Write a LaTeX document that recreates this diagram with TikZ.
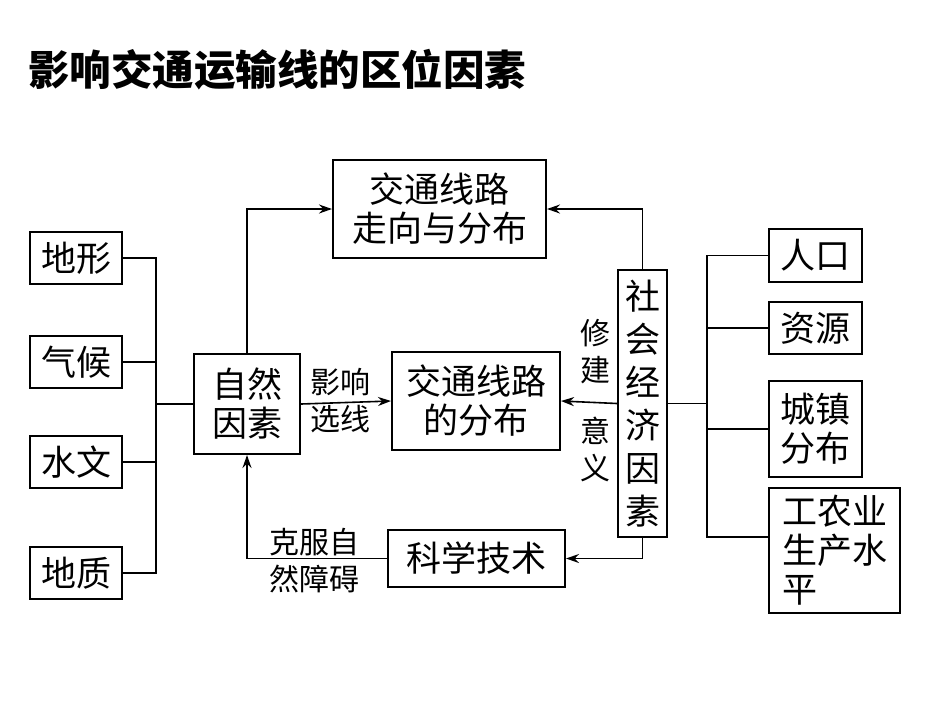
\documentclass[tikz,border=0pt]{standalone}
\usepackage{fontspec}
\setmainfont{Noto Sans CJK SC}
\newfontfamily\cjk{Noto Sans CJK SC}
\usetikzlibrary{arrows.meta}
\begin{document}
\begin{tikzpicture}[x=1pt,y=-1pt,
  box/.style={draw,line width=2pt,inner sep=0pt,align=center,font=\fontsize{35}{39}\selectfont\cjk},
  lab/.style={inner sep=0pt,align=center,font=\fontsize{30}{37}\selectfont\cjk},
  ln/.style={line width=1.6pt},
  ar/.style={line width=1.6pt,-{Stealth[length=13pt,width=9pt]}}]
\useasboundingbox (0,0) rectangle (950,713);
\node[anchor=west,inner sep=0pt,font=\fontsize{41.5}{44}\selectfont\cjk\bfseries] (title) at (28,70) {影响交通运输线的区位因素};
% left
\node[box,minimum width=92pt,minimum height=52pt] (dx) at (76,258) {地形};
\node[box,minimum width=92pt,minimum height=52pt] (qh) at (76,362) {气候};
\node[box,minimum width=92pt,minimum height=52pt] (sw) at (76,462) {水文};
\node[box,minimum width=92pt,minimum height=52pt] (dz) at (76,573) {地质};
\node[box,minimum width=106pt,minimum height=100pt] (zr) at (247,404) {自然\\因素};
\node[box,minimum width=213pt,minimum height=98pt] (zx) at (439.5,209) {交通线路\\走向与分布};
\node[box,minimum width=168pt,minimum height=98pt] (fb) at (476,401) {交通线路\\的分布};
\node[box,minimum width=49pt,minimum height=267pt,font=\fontsize{35}{43}\selectfont\cjk] (sh) at (642.5,403.5) {社\\会\\经\\济\\因\\素};
\node[box,minimum width=177pt,minimum height=57pt] (kx) at (476.5,558.5) {科学技术};
% right
\node[box,minimum width=93pt,minimum height=53pt] (rk) at (815.5,255.5) {人口};
\node[box,minimum width=93pt,minimum height=52pt] (zy) at (815.5,328) {资源};
\node[box,minimum width=93pt,minimum height=96pt] (cz) at (815.5,429) {城镇\\分布};
\node[box,minimum width=131pt,minimum height=125pt,align=left] (gn) at (834.5,550.5) {工农业\\生产水\\平};
% labels
\node[lab] (l1) at (340,401) {影响\\选线};
\node[lab] (l2) at (595,352) {修\\建};
\node[lab] (l3) at (595,449) {意\\义};
\node[lab] (l4) at (314,561) {克服自\\然障碍};
% left bus
\coordinate (bt) at (156,258);
\coordinate (bb) at (156,573);
\draw[ln] (dx.east) -- (bt) -- (bb) -- (dz.east);
\draw[ln] (qh.east) -- (156,362);
\draw[ln] (sw.east) -- (156,462);
\draw[ln] (156,404) -- (zr.west);
% arrows
\draw[ar] (zr.north) |- (zx.west);
\draw[ar] (zr.east) -- (fb.west);
\draw[ar] (sh.north) |- (zx.east);
\draw[ar] (sh.west) -- (fb.east);
\draw[ar] (sh.south) |- (kx.east);
\draw[ar] (kx.west) -| (zr.south);
% right bus
\draw[ln] (sh.east) -- (707,403.5);
\draw[ln] (rk.west) -- (707,255.5) -- (707,537) -- (gn.west |- 0,537);
\draw[ln] (zy.west) -- (707,328);
\draw[ln] (cz.west) -- (707,429);
\end{tikzpicture}
\end{document}
